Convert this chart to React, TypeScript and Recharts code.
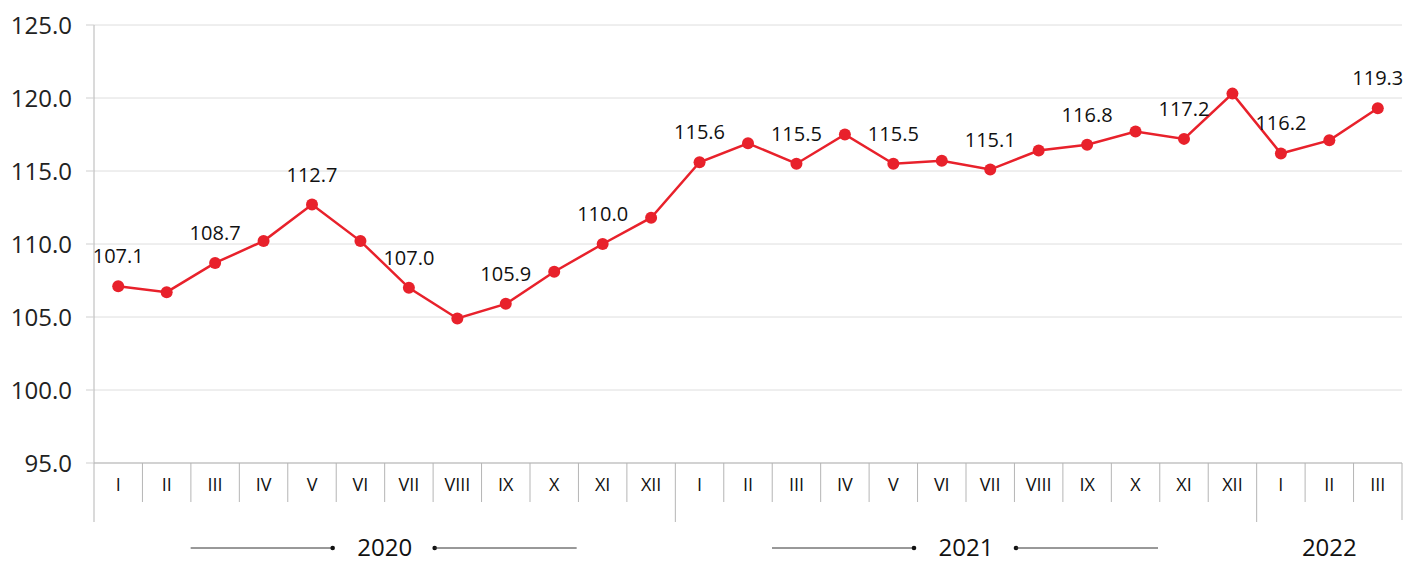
import React from "react";
import { LineChart, Line, XAxis, YAxis, CartesianGrid, LabelList } from "recharts";

const months = [
  "I", "II", "III", "IV", "V", "VI", "VII", "VIII", "IX", "X", "XI", "XII",
  "I", "II", "III", "IV", "V", "VI", "VII", "VIII", "IX", "X", "XI", "XII",
  "I", "II", "III",
];
const values = [
  107.1, 106.7, 108.7, 110.2, 112.7, 110.2, 107.0, 104.9, 105.9, 108.1, 110.0, 111.8,
  115.6, 116.9, 115.5, 117.5, 115.5, 115.7, 115.1, 116.4, 116.8, 117.7, 117.2, 120.3,
  116.2, 117.1, 119.3,
];
const years = ["2020", "2021", "2022"];
const yearStarts = [0, 12, 24];
const yTicks = [95, 100, 105, 110, 115, 120, 125];

const data = months.map((m, i) => ({ id: i, month: m, value: values[i] }));

const W = 1420;
const H = 562;
const M = { top: 25, right: 18, left: 0, bottom: 0 };
const Y_AXIS_W = 94;
const X_AXIS_H = 99;
const PLOT_W = W - M.left - M.right - Y_AXIS_W;
const BAND = PLOT_W / months.length;
const AXIS_Y = H - M.bottom - X_AXIS_H;
const FONT = "'Open Sans', 'Noto Sans', sans-serif";
const SEP = "#b5b5b5";
const txtStyle = { fontFamily: FONT };

const MonthTick = (props: any) => {
  const { x, payload } = props;
  const idx = payload.index;
  const left = x - BAND / 2;
  const isYearStart = yearStarts.includes(idx);
  const els: any[] = [];
  els.push(
    <line key="l" x1={left} x2={left} y1={AXIS_Y} y2={AXIS_Y + (isYearStart ? 59 : 39)} stroke={SEP} strokeWidth={1} />
  );
  if (idx === months.length - 1) {
    els.push(
      <line key="r" x1={x + BAND / 2} x2={x + BAND / 2} y1={AXIS_Y} y2={AXIS_Y + 57} stroke={SEP} strokeWidth={1} />
    );
  }
  els.push(
    <text key="t" x={x} y={AXIS_Y + 28} textAnchor="middle" fontSize={18} fill="#111" style={txtStyle}>
      {months[idx]}
    </text>
  );
  const yi = yearStarts.indexOf(idx);
  if (yi >= 0) {
    const endIdx = yi + 1 < yearStarts.length ? yearStarts[yi + 1] : months.length;
    const cx = left + ((endIdx - idx) * BAND) / 2;
    const cy = AXIS_Y + 85;
    els.push(
      <text key="y" x={cx} y={cy + 8} textAnchor="middle" fontSize={24} fill="#111" style={txtStyle}>
        {years[yi]}
      </text>
    );
    if (endIdx - idx === 12) {
      els.push(
        <g key="d">
          <line x1={cx - 194} x2={cx - 52} y1={cy} y2={cy} stroke="#333" strokeWidth={1} />
          <circle cx={cx - 52} cy={cy} r={2.3} fill="#111" />
          <circle cx={cx + 50} cy={cy} r={2.3} fill="#111" />
          <line x1={cx + 50} x2={cx + 192} y1={cy} y2={cy} stroke="#333" strokeWidth={1} />
        </g>
      );
    }
  }
  return <g>{els}</g>;
};

const ValueLabel = (props: any) => {
  const { x, y, value, index } = props;
  if (index % 2 !== 0) return null;
  return (
    <text x={x} y={y - 23} textAnchor="middle" fontSize={20} fill="#111" style={txtStyle}>
      {Number(value).toFixed(1)}
    </text>
  );
};

export default function App() {
  return (
    <div style={{ position: "absolute", left: 0, top: 0, width: W, height: H, background: "#fff", fontFamily: FONT }}>
      <LineChart width={W} height={H} data={data} margin={M}>
        <CartesianGrid horizontal={true} vertical={false} stroke="#dedede" />
        <XAxis
          dataKey="id"
          type="category"
          height={X_AXIS_H}
          axisLine={{ stroke: SEP }}
          tickLine={false}
          interval={0}
          padding={{ left: BAND / 2, right: BAND / 2 }}
          tick={<MonthTick />}
        />
        <YAxis
          domain={[95, 125]}
          ticks={yTicks}
          width={Y_AXIS_W}
          tickFormatter={(v: number) => v.toFixed(1)}
          axisLine={{ stroke: SEP }}
          tickLine={{ stroke: "#cfcfcf" }}
          tickSize={8}
          tickMargin={14}
          tick={{ fontSize: 24, fill: "#222", fontFamily: FONT }}
          allowDataOverflow
        />
        <Line
          type="linear"
          dataKey="value"
          stroke="#e8212b"
          strokeWidth={2.5}
          dot={{ r: 6, fill: "#e8212b", stroke: "#e8212b", strokeWidth: 0 }}
          isAnimationActive={false}
        >
          <LabelList dataKey="value" content={<ValueLabel />} />
        </Line>
      </LineChart>
    </div>
  );
}
